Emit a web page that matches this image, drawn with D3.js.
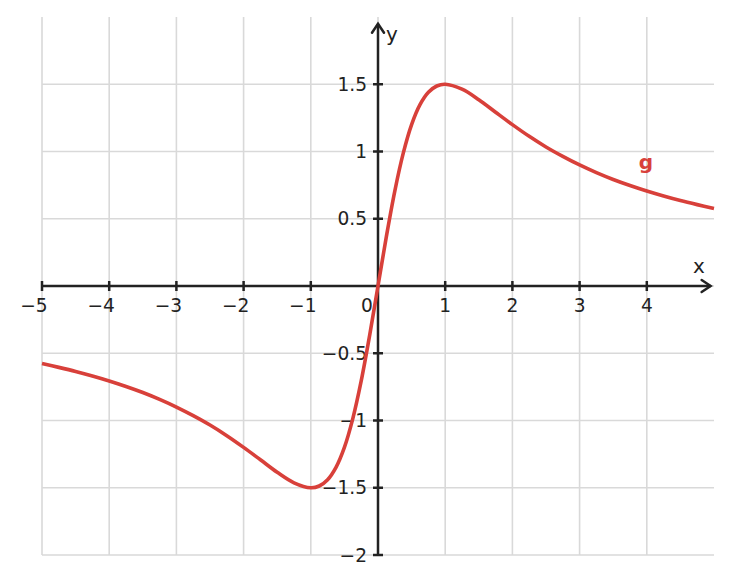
<!DOCTYPE html>
<html>
<head>
<meta charset="utf-8">
<script src="https://cdn.jsdelivr.net/npm/d3@7"></script>
<style>
  body { margin: 0; background: #fff; }
  text { font-family: "DejaVu Sans", sans-serif; }
</style>
</head>
<body>
<svg id="chart" width="732" height="584"></svg>
<script>
// values of g
const xs = [-5, -4.75, -4.5, -4.25, -4, -3.75, -3.5, -3.25, -3, -2.75, -2.5, -2.25, -2,
  -1.75, -1.5, -1.25, -1, -0.875, -0.75, -0.625, -0.5, -0.375, -0.25, -0.125, 0,
  0.125, 0.25, 0.375, 0.5, 0.625, 0.75, 0.875, 1, 1.25, 1.5, 1.75, 2,
  2.25, 2.5, 2.75, 3, 3.25, 3.5, 3.75, 4, 4.25, 4.5, 4.75, 5];
const gValues = [-0.577, -0.605, -0.635, -0.669, -0.706, -0.747, -0.792, -0.843, -0.9, -0.964, -1.034, -1.113, -1.2,
  -1.292, -1.385, -1.463, -1.5, -1.487, -1.44, -1.348, -1.2, -0.986, -0.706, -0.369, 0,
  0.369, 0.706, 0.986, 1.2, 1.348, 1.44, 1.487, 1.5, 1.463, 1.385, 1.292, 1.2,
  1.113, 1.034, 0.964, 0.9, 0.843, 0.792, 0.747, 0.706, 0.669, 0.635, 0.605, 0.577];

const xTicks = [-5, -4, -3, -2, -1, 1, 2, 3, 4];
const yTicks = [-2, -1.5, -1, -0.5, 0.5, 1, 1.5];
const xGrid = [-5, -4, -3, -2, -1, 0, 1, 2, 3, 4];
const yGrid = [-2, -1.5, -1, -0.5, 0, 0.5, 1, 1.5];

const svg = d3.select('#chart');
const x = d3.scaleLinear().domain([-5, 5]).range([42, 714]);
const y = d3.scaleLinear().domain([-2, 2]).range([555, 17]);
const fmt = (d) => String(d).replace('-', '\u2212');
const red = '#d8403a';
const ink = '#222';
const fs = 18.6;

// grid
svg.append('g').selectAll('line').data(xGrid).enter().append('line')
  .attr('x1', (d) => x(d)).attr('x2', (d) => x(d))
  .attr('y1', y(2)).attr('y2', y(-2))
  .attr('stroke', '#d9d9d9').attr('stroke-width', 1.6);
svg.append('g').selectAll('line').data(yGrid).enter().append('line')
  .attr('x1', x(-5)).attr('x2', x(5))
  .attr('y1', (d) => y(d)).attr('y2', (d) => y(d))
  .attr('stroke', '#d9d9d9').attr('stroke-width', 1.6);

// axes
const axes = svg.append('g').attr('stroke', ink).attr('stroke-width', 2.5);
axes.append('line').attr('x1', x(-5)).attr('x2', x(4.95)).attr('y1', y(0)).attr('y2', y(0));
axes.append('line').attr('x1', x(0)).attr('x2', x(0)).attr('y1', y(-2)).attr('y2', y(1.95));
// arrowheads
axes.append('path').attr('fill', 'none').attr('stroke-linecap', 'round')
  .attr('d', `M${x(4.95) - 9},${y(0) - 6} L${x(4.95)},${y(0)} L${x(4.95) - 9},${y(0) + 6}`);
axes.append('path').attr('fill', 'none').attr('stroke-linecap', 'round')
  .attr('d', `M${x(0) - 6},${y(1.95) + 9} L${x(0)},${y(1.95)} L${x(0) + 6},${y(1.95) + 9}`);

// ticks
axes.append('g').selectAll('line').data(xTicks).enter().append('line')
  .attr('x1', (d) => x(d)).attr('x2', (d) => x(d))
  .attr('y1', y(0) - 5).attr('y2', y(0) + 5);
axes.append('g').selectAll('line').data(yTicks).enter().append('line')
  .attr('x1', x(0) - 5).attr('x2', x(0) + 5)
  .attr('y1', (d) => y(d)).attr('y2', (d) => y(d));

// tick labels (digits centred on the tick, minus sign hanging left)
svg.append('g').selectAll('text').data(xTicks).enter().append('text')
  .attr('x', (d) => x(d) + (d < 0 ? -8 : 0)).attr('y', y(0) + 26)
  .attr('text-anchor', 'middle').attr('font-size', fs).attr('fill', ink)
  .text(fmt);
svg.append('g').selectAll('text').data(yTicks).enter().append('text')
  .attr('x', x(0) - 11).attr('y', (d) => y(d) + 6.7)
  .attr('text-anchor', 'end').attr('font-size', fs).attr('fill', ink)
  .text(fmt);
svg.append('text').attr('x', x(0) - 11).attr('y', y(0) + 26)
  .attr('text-anchor', 'middle').attr('font-size', fs).attr('fill', ink).text('0');

// axis names
svg.append('text').attr('x', 699).attr('y', 273).attr('text-anchor', 'middle')
  .attr('font-size', 20).attr('fill', ink).text('x');
svg.append('text').attr('x', 392).attr('y', 41).attr('text-anchor', 'middle')
  .attr('font-size', 20).attr('fill', ink).text('y');

// curve
const line = d3.line()
  .x((d, i) => x(xs[i]))
  .y((d) => y(d))
  .curve(d3.curveCatmullRom);
svg.append('path').datum(gValues)
  .attr('fill', 'none').attr('stroke', red).attr('stroke-width', 3.6)
  .attr('d', line);

svg.append('text').attr('x', 646).attr('y', 169).attr('text-anchor', 'middle')
  .attr('font-size', 20).attr('font-weight', 'bold').attr('fill', red).text('g');
</script>
</body>
</html>
